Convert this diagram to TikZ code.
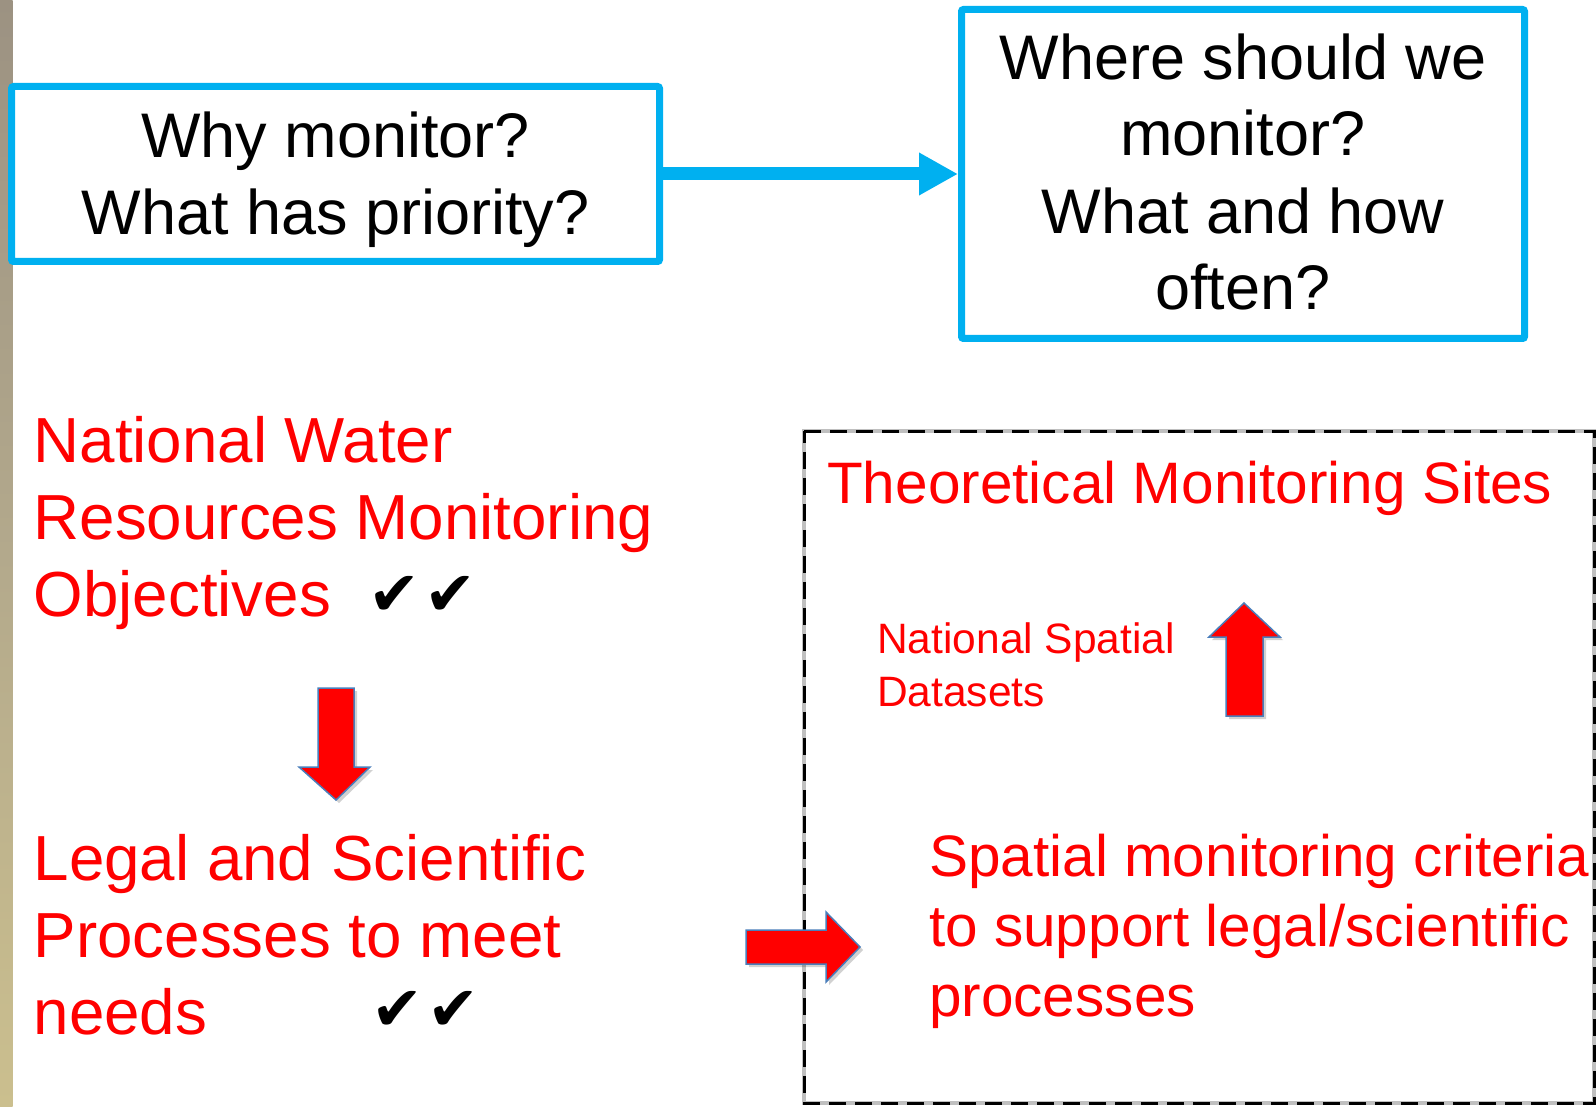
\documentclass[tikz,border=0pt]{standalone}
\usepackage{fontspec}
\setmainfont{Liberation Sans}
\newfontfamily\symfont{DejaVu Sans}
\usetikzlibrary{arrows.meta}
\definecolor{skyblue}{HTML}{00B0F0}
\definecolor{pptred}{HTML}{FF0000}
\definecolor{arrowedge}{HTML}{4A7EBB}
\definecolor{stripTop}{HTML}{9C9282}
\definecolor{stripMid}{HTML}{B3A98C}
\definecolor{stripBot}{HTML}{CBBF8E}
\tikzset{
  bluebox/.style={draw=skyblue, line width=7pt, rounded corners=2pt, inner sep=0pt},
  boxtext/.style={font=\fontsize{63}{77}\selectfont, align=center, inner sep=0pt, text=black, anchor=base},
  bigred/.style={font=\fontsize{63.7}{77}\selectfont, align=left, inner sep=0pt, text=pptred, anchor=base west},
  midred/.style={font=\fontsize{58.5}{70}\selectfont, align=left, inner sep=0pt, text=pptred, anchor=base west},
  smallred/.style={font=\fontsize{42.5}{53}\selectfont, align=left, inner sep=0pt, text=pptred, anchor=base west},
  checks/.style={font=\symfont\fontsize{62}{62}\selectfont, inner sep=0pt, anchor=base west, text=black},
  blockarrow/.style={fill=pptred, draw=arrowedge, line width=1.5pt, line join=miter},
  blockshadow/.style={fill=black, opacity=0.18, draw=none},
  flowarrow/.style={draw=skyblue, line width=13pt, -{Triangle[length=39pt,width=40pt]}},
}
\begin{document}
\begin{tikzpicture}[x=1pt,y=-1pt]
\useasboundingbox (0,0) rectangle (1596,1107);
\fill[white] (0,0) rectangle (1596,1107);
% background strip at the left edge
\shade[top color=stripTop, bottom color=stripBot, middle color=stripMid] (0,0) rectangle (12.5,1107);

% top boxes (anchor=base of a multi-line node = baseline of its last line)
\node[bluebox, minimum width=648pt, minimum height=175pt] (why) at (335.5,174) {};
\node[boxtext] (whytxt) at (335.5,235) {Why monitor?\\What has priority?};
\node[bluebox, minimum width=563pt, minimum height=329pt] (where) at (1243,174) {};
\node[boxtext] (wheretxt) at (1243,310) {Where should we\\monitor?\\What and how\\often?};
\draw[flowarrow] (why.east) -- (where.west);

% left red texts
\node[bigred] (objectives) at (33.5,616.5) {National Water\\Resources Monitoring\\Objectives};
\node[checks] (chk1) at (368,615) {✔\kern4pt✔};
\node[bigred] (legal) at (33.5,1034) {Legal and Scientific\\Processes to meet\\needs};
\node[checks] (chk2) at (371,1030) {✔\kern4pt✔};

% down block arrow
\fill[blockshadow] (321,691) -- (357,691) -- (357,770) -- (373,770) -- (339,803) -- (302,770) -- (321,770) -- cycle;
\draw[blockarrow] (318,688) -- (354,688) -- (354,767) -- (370,767) -- (336,800) -- (299,767) -- (318,767) -- cycle;

% dashed box
\draw[black!25, line width=4pt] (804,431) rectangle (1594,1103);
\draw[black, line width=3pt, dash pattern=on 17pt off 9pt] (804,431) -- (1594,431) -- (1594,1103) -- (804,1103) -- cycle;
\node[midred] (sites) at (827,503) {Theoretical Monitoring Sites};
\node[smallred] (datasets) at (877,706) {National Spatial\\Datasets};

% up block arrow
\fill[blockshadow] (1229,719) -- (1266,719) -- (1266,640) -- (1283,640) -- (1247,606) -- (1212,640) -- (1229,640) -- cycle;
\draw[blockarrow] (1226,716) -- (1263,716) -- (1263,637) -- (1280,637) -- (1244,603) -- (1209,637) -- (1226,637) -- cycle;

\node[midred] (criteria) at (929,1016) {Spatial monitoring criteria\\to support legal/scientific\\processes};

% right block arrow
\fill[blockshadow] (749,933) -- (829,933) -- (829,915) -- (863,950) -- (829,985) -- (829,967) -- (749,967) -- cycle;
\draw[blockarrow] (746,930) -- (826,930) -- (826,912) -- (860,947) -- (826,982) -- (826,964) -- (746,964) -- cycle;
\end{tikzpicture}
\end{document}
